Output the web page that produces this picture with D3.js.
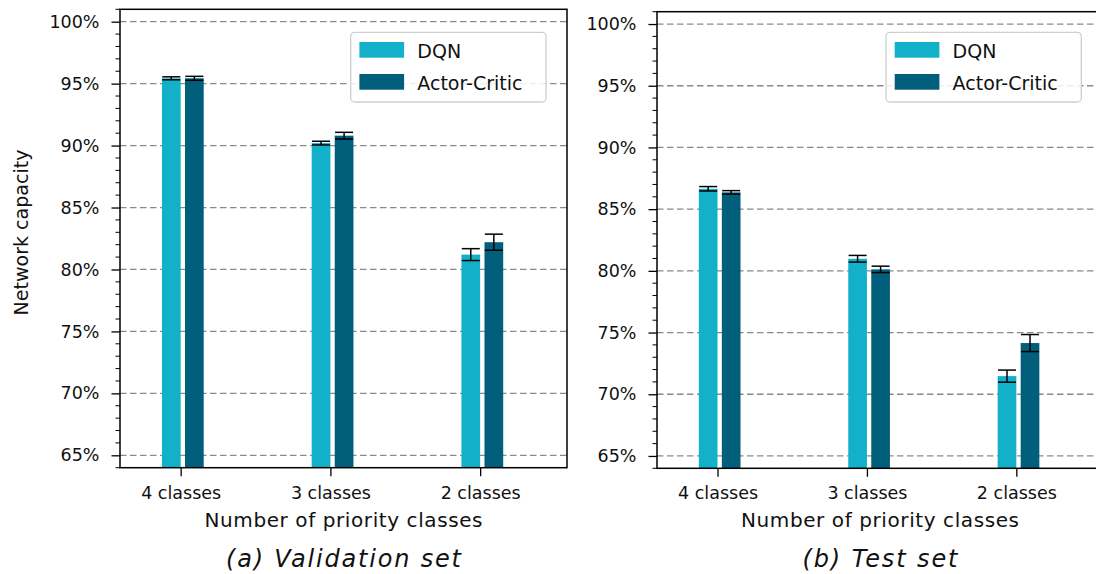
<!DOCTYPE html>
<html>
<head>
<meta charset="utf-8">
<script src="https://cdn.jsdelivr.net/npm/d3@7"></script>
<style>
  html, body { margin: 0; padding: 0; background: #fff; }
  svg { display: block; }
  text { font-family: "DejaVu Sans", sans-serif; fill: #111; }
</style>
</head>
<body>
<svg id="chart" width="1096" height="574"></svg>
<script>
// ---------------- data ----------------
const categories = ["4 classes", "3 classes", "2 classes"];
const seriesNames = ["DQN", "Actor-Critic"];

const valDQN    = [95.43, 90.20, 81.20];
const valDQNErr = [0.12, 0.15, 0.48];
const valAC     = [95.43, 90.80, 82.20];
const valACErr  = [0.16, 0.27, 0.65];

const testDQN    = [86.65, 80.98, 71.47];
const testDQNErr = [0.18, 0.27, 0.49];
const testAC     = [86.36, 80.12, 74.15];
const testACErr  = [0.14, 0.26, 0.69];

const yMajorTicks = [65, 70, 75, 80, 85, 90, 95, 100];
const yTickLabels = ["65%", "70%", "75%", "80%", "85%", "90%", "95%", "100%"];
const yMinorTicks = d3.range(64, 102, 1).filter(v => v % 5 !== 0);

const captions = ["(a) Validation set", "(b) Test set"];
const xLabel = "Number of priority classes";
const yLabel = "Network capacity";

// ---------------- styles / layout ----------------
const FONT = "DejaVu Sans";
const colors = ["#12b0c9", "#015f7b"];
const panels = [
  { left: 120, right: 567, top: 9.3, bottom: 467.7,
    dqn: valDQN, dqnErr: valDQNErr, ac: valAC, acErr: valACErr,
    legend: { x: 350.7, y: 32.3, w: 195.3, h: 69.7 },
    caption: captions[0], captionLen: 235, showYLabel: true },
  { left: 657, right: 1103, top: 11.7, bottom: 468.3,
    dqn: testDQN, dqnErr: testDQNErr, ac: testAC, acErr: testACErr,
    legend: { x: 886, y: 32.3, w: 195.3, h: 69.7 },
    caption: captions[1], captionLen: 155, showYLabel: false }
];
const barW = 0.125, barGap = 0.029;

const svg = d3.select("#chart");

panels.forEach(p => {
  const x = d3.scaleLinear().domain([-0.405, 2.58]).range([p.left, p.right]);
  const y = d3.scaleLinear().domain([64, 101]).range([p.bottom, p.top]);
  const g = svg.append("g");

  // gridlines (behind bars)
  g.append("g").selectAll("line").data(yMajorTicks).join("line")
    .attr("x1", p.left).attr("x2", p.right)
    .attr("y1", d => y(d)).attr("y2", d => y(d))
    .attr("stroke", "#8a8a8a").attr("stroke-width", 1.3)
    .attr("stroke-dasharray", "6.5,3.5");

  // bars
  const series = [
    { vals: p.dqn, errs: p.dqnErr, off: -barW, color: colors[0] },
    { vals: p.ac,  errs: p.acErr,  off: barGap, color: colors[1] }
  ];
  series.forEach(s => {
    g.append("g").selectAll("rect").data(s.vals).join("rect")
      .attr("x", (d, i) => x(i + s.off))
      .attr("width", (d, i) => x(i + s.off + barW) - x(i + s.off))
      .attr("y", d => y(d))
      .attr("height", d => y(64) - y(d))
      .attr("fill", s.color);
  });
  // error bars
  series.forEach(s => {
    const eg = g.append("g").attr("stroke", "#000").attr("stroke-width", 1.5);
    s.vals.forEach((v, i) => {
      const cx = x(i + s.off + barW / 2);
      const e = s.errs[i];
      eg.append("line").attr("x1", cx).attr("x2", cx).attr("y1", y(v - e)).attr("y2", y(v + e));
      eg.append("line").attr("x1", cx - 9).attr("x2", cx + 9).attr("y1", y(v - e)).attr("y2", y(v - e));
      eg.append("line").attr("x1", cx - 9).attr("x2", cx + 9).attr("y1", y(v + e)).attr("y2", y(v + e));
    });
  });

  // y axis (major + minor)
  const yAxis = d3.axisLeft(y).tickValues(yMajorTicks)
    .tickFormat((d, i) => yTickLabels[i]).tickSize(8.5).tickPadding(12);
  const ya = g.append("g").attr("transform", `translate(${p.left},0)`).call(yAxis);
  ya.select(".domain").remove();
  ya.selectAll(".tick line").attr("stroke", "#000").attr("stroke-width", 1.3);
  ya.selectAll(".tick text").attr("font-size", 17.5).attr("font-family", FONT).attr("fill", "#111");
  g.append("g").selectAll("line").data(yMinorTicks).join("line")
    .attr("x1", p.left - 4.5).attr("x2", p.left)
    .attr("y1", d => y(d)).attr("y2", d => y(d))
    .attr("stroke", "#000").attr("stroke-width", 1);

  // x axis
  const xAxis = d3.axisBottom(x).tickValues(d3.range(categories.length))
    .tickFormat(i => categories[i]).tickSize(8.5).tickPadding(10);
  const xa = g.append("g").attr("transform", `translate(0,${p.bottom})`).call(xAxis);
  xa.select(".domain").remove();
  xa.selectAll(".tick line").attr("stroke", "#000").attr("stroke-width", 1.3);
  xa.selectAll(".tick text").attr("font-size", 17.5).attr("font-family", FONT).attr("fill", "#111");

  // frame
  g.append("rect").attr("x", p.left).attr("y", p.top)
    .attr("width", p.right - p.left).attr("height", p.bottom - p.top)
    .attr("fill", "none").attr("stroke", "#000").attr("stroke-width", 1.5);

  // legend
  const L = p.legend;
  const lg = g.append("g");
  lg.append("rect").attr("x", L.x).attr("y", L.y).attr("width", L.w).attr("height", L.h)
    .attr("rx", 4).attr("fill", "#fff").attr("fill-opacity", 0.85)
    .attr("stroke", "#cfcfcf").attr("stroke-width", 1.3);
  seriesNames.forEach((name, i) => {
    const ry = L.y + 9.7 + i * 32;
    lg.append("rect").attr("x", L.x + 8.7).attr("y", ry).attr("width", 44.7).attr("height", 15.7)
      .attr("fill", colors[i]);
    lg.append("text").attr("x", L.x + 66.6).attr("y", ry + 15.7)
      .attr("font-size", 19).text(name);
  });

  // x label
  g.append("text").attr("x", (p.left + p.right) / 2).attr("y", 526.5)
    .attr("text-anchor", "middle").attr("font-size", 20)
    .attr("textLength", 278).attr("lengthAdjust", "spacing")
    .text(xLabel);

  // caption
  g.append("text").attr("x", (p.left + p.right) / 2 - p.captionLen / 2).attr("y", 567)
    .attr("font-size", 24).attr("font-style", "italic")
    .attr("textLength", p.captionLen).attr("lengthAdjust", "spacing")
    .text(p.caption);

  if (p.showYLabel) {
    g.append("text")
      .attr("transform", `translate(28,${(p.top + p.bottom) / 2 - 6}) rotate(-90)`)
      .attr("text-anchor", "middle").attr("font-size", 19)
      .attr("textLength", 166).attr("lengthAdjust", "spacing")
      .text(yLabel);
  }
});
</script>
</body>
</html>
